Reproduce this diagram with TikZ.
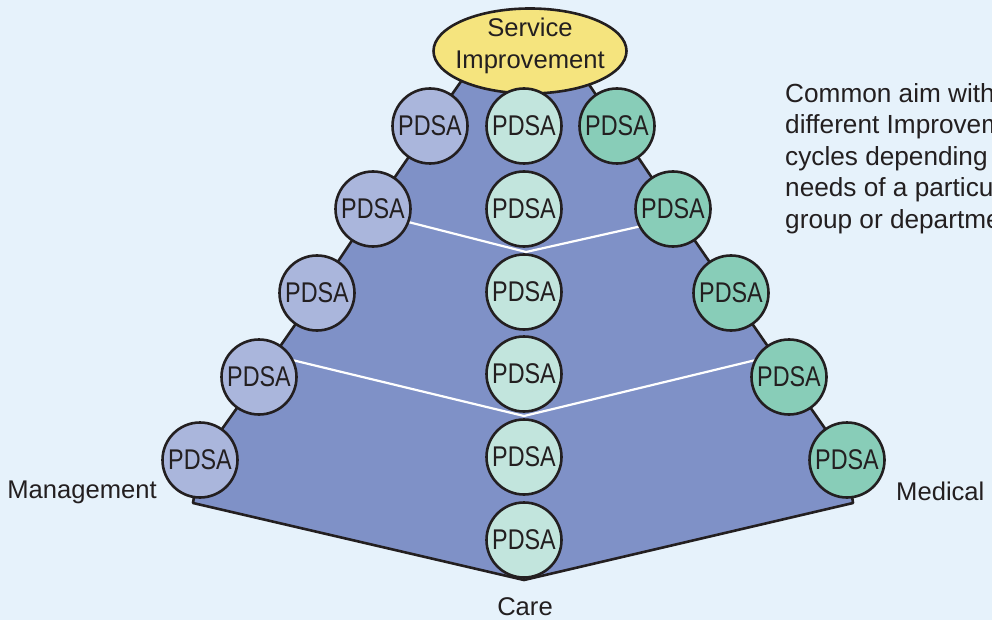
\documentclass[tikz,border=0pt]{standalone}
\usepackage{fontspec}
\setmainfont{Liberation Sans}
\newfontfamily\cyclefont{Liberation Sans}[FakeStretch=0.82]
\usetikzlibrary{shapes.geometric,backgrounds}
\definecolor{bg}{HTML}{E6F2FB}
\definecolor{pyramid}{HTML}{7F91C7}
\definecolor{mgmt}{HTML}{AAB6DC}
\definecolor{care}{HTML}{C2E5DD}
\definecolor{med}{HTML}{88CDB8}
\definecolor{goal}{HTML}{F5E47E}
\definecolor{ink}{HTML}{231F20}
\tikzset{
  pdsa/.style={circle, draw=ink, line width=2.6pt, minimum size=75pt, inner sep=0pt,
    text=ink, font=\cyclefont\fontsize{28.5}{30}\selectfont},
  mgmtcycle/.style={pdsa, fill=mgmt},
  carecycle/.style={pdsa, fill=care},
  medcycle/.style={pdsa, fill=med},
  edge/.style={draw=ink, line width=2.6pt, line join=round},
  level/.style={draw=white, line width=2.2pt},
  label/.style={text=ink, font=\fontsize{25.6}{31.5}\selectfont, inner sep=0pt}
}
\begin{document}
\begin{tikzpicture}[x=1pt, y=-1pt]
\useasboundingbox (0,0) rectangle (992,620);
\clip (0,0) rectangle (992,620);

% shared goal at the apex
\node[ellipse, draw=ink, line width=2.6pt, fill=goal, minimum width=193pt, minimum height=85pt,
      inner sep=0pt] (goal) at (530,51) {};
\node[label, align=center, font=\fontsize{25.6}{32}\selectfont] (goaltext) at (530,46)
      {Service\\Improvement};

% management cycles (left flank)
\node[mgmtcycle] (L1) at (430,126) {PDSA};
\node[mgmtcycle] (L2) at (373,209) {PDSA};
\node[mgmtcycle] (L3) at (317,293) {PDSA};
\node[mgmtcycle] (L4) at (259,377) {PDSA};
\node[mgmtcycle] (L5) at (200,460) {PDSA};

% care cycles (centre column)
\node[carecycle] (C1) at (524,126) {PDSA};
\node[carecycle] (C2) at (524,209) {PDSA};
\node[carecycle] (C3) at (524,292) {PDSA};
\node[carecycle] (C4) at (524,374) {PDSA};
\node[carecycle] (C5) at (524,457) {PDSA};
\node[carecycle] (C6) at (524,540) {PDSA};

% medical cycles (right flank)
\node[medcycle] (R1) at (617,126) {PDSA};
\node[medcycle] (R2) at (673,209) {PDSA};
\node[medcycle] (R3) at (731,293) {PDSA};
\node[medcycle] (R4) at (789,377) {PDSA};
\node[medcycle] (R5) at (847,460) {PDSA};

% pyramid corners
\coordinate (tl) at (462,80);
\coordinate (tr) at (586,80);
\coordinate (bl) at (193,503);
\coordinate (bc) at (524,580);
\coordinate (br) at (853,503);
% ends and dips of the level dividers
\coordinate (a1) at (373,213);
\coordinate (v1) at (526,252);
\coordinate (a2) at (673,219);
\coordinate (b1) at (259,352);
\coordinate (v2) at (524,416);
\coordinate (b2) at (789,352);

\begin{scope}[on background layer]
  \fill[bg] (0,0) rectangle (992,620);
  \fill[pyramid] (tl) -- (L1.center) -- (L2.center) -- (L3.center) -- (L4.center)
    -- (L5.center) -- (bl) -- (bc) -- (br) -- (R5.center) -- (R4.center) -- (R3.center)
    -- (R2.center) -- (R1.center) -- (tr) -- cycle;
  % level dividers
  \draw[level] (a1) -- (v1) -- (a2);
  \draw[level] (b1) -- (v2) -- (b2);
  % outline
  \draw[edge] (tl) -- (L1.center) -- (L2.center) -- (L3.center) -- (L4.center)
    -- (L5.center) -- (bl) -- (bc) -- (br) -- (R5.center) -- (R4.center) -- (R3.center)
    -- (R2.center) -- (R1.center) -- (tr);
\end{scope}

% group labels
\node[label, anchor=east] (mlabel) at (157,492) {Management};
\node[label, anchor=west] (dlabel) at (896,491) {Medical};
\node[label] (clabel) at (525,607) {Care};

\node[label, anchor=north west, align=left, font=\fontsize{26.2}{31.5}\selectfont] (aim) at (785,83)
  {Common aim with\\different Improvement\\cycles depending on the\\needs of a particular\\group or department};
\end{tikzpicture}
\end{document}
